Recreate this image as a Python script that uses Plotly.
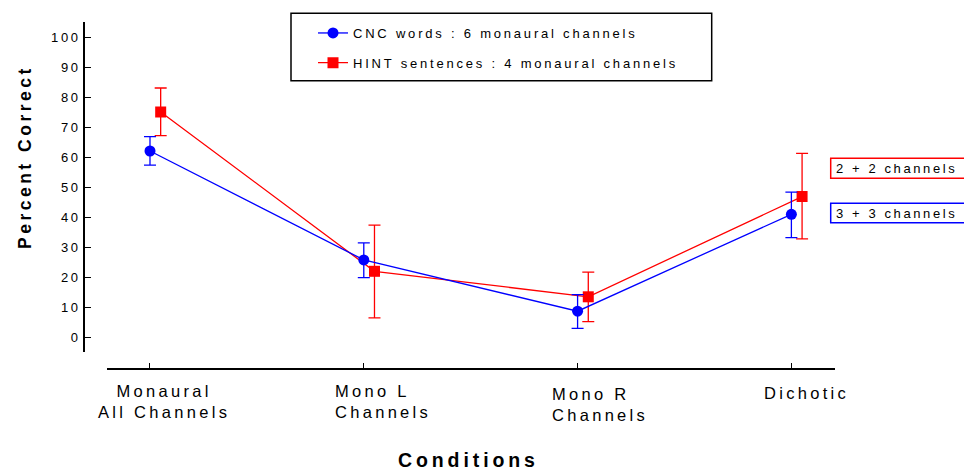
import plotly.graph_objects as go

# ---- data ----
categories = ["Monaural<br>All Channels", "Mono L<br>Channels", "Mono R<br>Channels", "Dichotic"]
cnc_mean = [62.0, 25.7, 8.6, 40.9]
cnc_err_plus = [4.8, 5.7, 5.5, 7.4]
cnc_err_minus = [4.7, 5.9, 5.7, 7.8]
hint_mean = [75.0, 21.9, 13.4, 46.8]
hint_err_plus = [8.0, 15.4, 8.2, 14.4]
hint_err_minus = [7.9, 15.5, 8.3, 14.1]
y_ticks = [0, 10, 20, 30, 40, 50, 60, 70, 80, 90, 100]
series_names = ["CNC words : 6 monaural channels", "HINT sentences : 4 monaural channels"]
group_notes = ["2 + 2 channels", "3 + 3 channels"]

BLUE = "#0000FF"
RED = "#FF0000"
FONT = "Liberation Sans, Arial, sans-serif"

W, H = 964, 472
ML, MR, MT, MB = 84, 129, 22, 103
PW = W - ML - MR
PH = H - MT - MB


def fx(px):
    return (px - ML) / PW


def fy(py):
    return (H - MB - py) / PH


def sp(text, size, ratio=0.2):
    """wrap text (each line) in a letter-spaced span"""
    ls = round(size * ratio, 2)
    return "<br>".join(f'<span style="letter-spacing:{ls}px">{line}</span>'
                       for line in text.split("<br>"))


x_idx = list(range(len(categories)))
dodge = 0.05

fig = go.Figure()
fig.add_trace(go.Scatter(
    x=[i + dodge for i in x_idx], y=hint_mean,
    mode="lines+markers", name=sp(series_names[1], 13, 0.215),
    line=dict(color=RED, width=1.3),
    marker=dict(symbol="square", size=11, color=RED),
    error_y=dict(type="data", array=hint_err_plus, arrayminus=hint_err_minus,
                 color=RED, thickness=1.3, width=6),
    legend="legend2",
))
fig.add_trace(go.Scatter(
    x=x_idx, y=cnc_mean,
    mode="lines+markers", name=sp(series_names[0], 13, 0.215),
    line=dict(color=BLUE, width=1.3),
    marker=dict(symbol="circle", size=11, color=BLUE),
    error_y=dict(type="data", array=cnc_err_plus, arrayminus=cnc_err_minus,
                 color=BLUE, thickness=1.3, width=6),
    legend="legend",
))

# category labels
label_specs = [
    dict(xshift=14, anchor="center", align="center", ymid=401.2),
    dict(xshift=335 - 363.7, anchor="left", align="left", ymid=401.0),
    dict(xshift=552.3 - 577.7, anchor="left", align="left", ymid=404.0),
    dict(xshift=15, anchor="center", align="center", ymid=393.3),
]
annotations = []
for i, (cat, spec) in enumerate(zip(categories, label_specs)):
    annotations.append(dict(
        x=i, xref="x", y=fy(spec["ymid"]), yref="paper",
        text=sp(cat, 16.5), showarrow=False, xanchor=spec["anchor"], yanchor="middle",
        xshift=spec["xshift"], align=spec["align"],
        font=dict(family=FONT, size=16.5, color="black"),
        borderpad=0, borderwidth=0,
    ))

annotations += [
    dict(x=fx(25), y=fy(157), xref="paper", yref="paper",
         text="<b>" + sp("Percent Correct", 17.5) + "</b>",
         textangle=-90, showarrow=False, xanchor="center", yanchor="middle",
         font=dict(family=FONT, size=17.5, color="black")),
    dict(x=fx(468.5), y=fy(460), xref="paper", yref="paper",
         text="<b>" + sp("Conditions", 19.5) + "</b>",
         showarrow=False, xanchor="center", yanchor="middle",
         font=dict(family=FONT, size=19.5, color="black")),
    dict(x=fx(836), y=fy(168.3), xref="paper", yref="paper", text=sp(group_notes[0], 13),
         showarrow=False, xanchor="left", yanchor="middle", borderpad=0, borderwidth=0,
         font=dict(family=FONT, size=13, color="black")),
    dict(x=fx(836), y=fy(213), xref="paper", yref="paper", text=sp(group_notes[1], 13),
         showarrow=False, xanchor="left", yanchor="middle", borderpad=0, borderwidth=0,
         font=dict(family=FONT, size=13, color="black")),
]

shapes = [
    dict(type="rect", xref="paper", yref="paper", x0=fx(291), x1=fx(711.7), y0=fy(80.7), y1=fy(13.3),
         line=dict(color="black", width=1.5), fillcolor="rgba(0,0,0,0)", layer="above"),
    dict(type="rect", xref="paper", yref="paper", x0=fx(830.7), x1=fx(975), y0=fy(178.3), y1=fy(158.3),
         line=dict(color=RED, width=1.5), fillcolor="rgba(0,0,0,0)", layer="above"),
    dict(type="rect", xref="paper", yref="paper", x0=fx(830.7), x1=fx(975), y0=fy(222.7), y1=fy(203.3),
         line=dict(color=BLUE, width=1.5), fillcolor="rgba(0,0,0,0)", layer="above"),
]

legend_common = dict(
    xanchor="left", yanchor="middle", bgcolor="rgba(0,0,0,0)", borderwidth=0,
    font=dict(family=FONT, size=13, color="black"), itemwidth=30,
)

fig.update_layout(
    width=W, height=H,
    margin=dict(l=ML, r=MR, t=MT, b=MB, pad=0),
    paper_bgcolor="white", plot_bgcolor="white",
    showlegend=True,
    legend=dict(x=fx(313), y=fy(33), **legend_common),
    legend2=dict(x=fx(313), y=fy(62.7), **legend_common),
    xaxis=dict(
        domain=[fx(106.7), 1], range=[-0.2025, 3.204], anchor="free", position=0,
        showline=True, linecolor="black", linewidth=1.6,
        tickmode="array", tickvals=x_idx, ticktext=["" for _ in x_idx],
        ticks="inside", ticklen=5, tickwidth=1, tickcolor="black",
        showgrid=False, zeroline=False, fixedrange=True,
    ),
    yaxis=dict(
        domain=[fy(352), 1], range=[-5, 105], anchor="free", position=0,
        showline=True, linecolor="black", linewidth=1.6,
        tickmode="array", tickvals=y_ticks, ticktext=[sp(str(v), 13) for v in y_ticks],
        ticks="inside", ticklen=6, tickwidth=1, tickcolor="black",
        tickfont=dict(family=FONT, size=13, color="black"),
        showgrid=False, zeroline=False, fixedrange=True,
    ),
    annotations=annotations,
    shapes=shapes,
    hovermode=False,
)

fig.write_html("out.html", config={"displayModeBar": False, "responsive": False})
